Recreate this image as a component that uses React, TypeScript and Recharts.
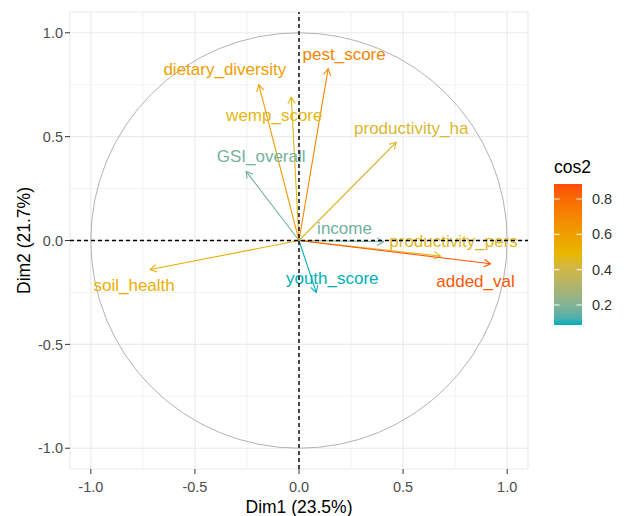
import { ScatterChart, Scatter, XAxis, YAxis, CartesianGrid, ReferenceLine } from "recharts";

// PCA variable coordinates
const variables = [
  "soil_health",
  "income",
  "productivity_ha",
  "productivity_pers",
  "added_val",
  "pest_score",
  "wemp_score",
  "youth_score",
  "dietary_diversity",
  "GSI_overall",
];
const dim1 = [-0.715, 0.406, 0.467, 0.68, 0.92, 0.14, -0.037, 0.083, -0.193, -0.254];
const dim2 = [-0.14, -0.006, 0.473, -0.075, -0.112, 0.827, 0.69, -0.25, 0.75, 0.333];

// label nudges in px (labels were repelled from the arrow tips)
const labelNudge: [number, number][] = [
  [-16, 16],
  [-39, -13],
  [15, -14],
  [13, -15],
  [-15, 18],
  [16, -14],
  [-17, 18],
  [16, -14],
  [-34, -15],
  [15, -15],
];

const majorTicks = [-1, -0.5, 0, 0.5, 1];
const minorTicks = [-0.75, -0.25, 0.25, 0.75];
const legendBreaks = [0.2, 0.4, 0.6, 0.8];
const cos2Limits = [0.087, 0.885];
const gradientCols = ["#00AFBB", "#E7B800", "#FC4E07"];

const FONT = "'Liberation Sans', Arial, sans-serif";

// ---- colour ramp in CIELAB, like ggplot's gradientn ----
const toLin = (c: number) => {
  const v = c / 255;
  return v <= 0.04045 ? v / 12.92 : Math.pow((v + 0.055) / 1.055, 2.4);
};
const fromLin = (c: number) => {
  const v = c <= 0.0031308 ? 12.92 * c : 1.055 * Math.pow(c, 1 / 2.4) - 0.055;
  return Math.round(Math.max(0, Math.min(1, v)) * 255);
};
const hexToLab = (hex: string) => {
  const r = toLin(parseInt(hex.slice(1, 3), 16));
  const g = toLin(parseInt(hex.slice(3, 5), 16));
  const b = toLin(parseInt(hex.slice(5, 7), 16));
  const X = (0.4124564 * r + 0.3575761 * g + 0.1804375 * b) / 0.95047;
  const Y = 0.2126729 * r + 0.7151522 * g + 0.072175 * b;
  const Z = (0.0193339 * r + 0.119192 * g + 0.9503041 * b) / 1.08883;
  const f = (t: number) => (t > 0.008856 ? Math.cbrt(t) : 7.787 * t + 16 / 116);
  const fx = f(X), fy = f(Y), fz = f(Z);
  return [116 * fy - 16, 500 * (fx - fy), 200 * (fy - fz)];
};
const labToHex = ([L, a, b]: number[]) => {
  const fy = (L + 16) / 116;
  const fx = a / 500 + fy;
  const fz = fy - b / 200;
  const inv = (t: number) => (t * t * t > 0.008856 ? t * t * t : (t - 16 / 116) / 7.787);
  const X = 0.95047 * inv(fx), Y = inv(fy), Z = 1.08883 * inv(fz);
  const r = 3.2404542 * X - 1.5371385 * Y - 0.4985314 * Z;
  const g = -0.969266 * X + 1.8760108 * Y + 0.041556 * Z;
  const bb = 0.0556434 * X - 0.2040259 * Y + 1.0572252 * Z;
  return "#" + [r, g, bb].map((c) => fromLin(c).toString(16).padStart(2, "0")).join("");
};
const labCols = gradientCols.map(hexToLab);
const rampColor = (value: number) => {
  let t = (value - cos2Limits[0]) / (cos2Limits[1] - cos2Limits[0]);
  t = Math.max(0, Math.min(1, t));
  const seg = t < 0.5 ? 0 : 1;
  const u = seg === 0 ? t / 0.5 : (t - 0.5) / 0.5;
  const A = labCols[seg], B = labCols[seg + 1];
  return labToHex(A.map((v, i) => v + (B[i] - v) * u));
};

const arrows = variables.map((name, i) => ({
  name,
  data: [
    { x: 0, y: 0 },
    { x: dim1[i], y: dim2[i] },
  ],
  color: rampColor(dim1[i] * dim1[i] + dim2[i] * dim2[i]),
  nudge: labelNudge[i],
}));

const noShape = () => <g />;

const makeArrow = (name: string, color: string, nudge: [number, number]) => (props: any) => {
  const pts = props.points;
  if (!pts || pts.length < 2) return <g />;
  const [o, t] = pts;
  const ang = Math.atan2(t.y - o.y, t.x - o.x);
  const len = 7.5;
  const a1 = ang + Math.PI - Math.PI / 6;
  const a2 = ang + Math.PI + Math.PI / 6;
  const head = `${t.x + len * Math.cos(a1)},${t.y + len * Math.sin(a1)} ${t.x},${t.y} ${
    t.x + len * Math.cos(a2)
  },${t.y + len * Math.sin(a2)}`;
  return (
    <g>
      <line x1={o.x} y1={o.y} x2={t.x} y2={t.y} stroke={color} strokeWidth={1.1} />
      <polyline points={head} fill="none" stroke={color} strokeWidth={1.1} />
      <text
        x={t.x + nudge[0]}
        y={t.y + nudge[1]}
        textAnchor="middle"
        dominantBaseline="central"
        fill={color}
        fontSize={17}
        fontFamily={FONT}
      >
        {name}
      </text>
    </g>
  );
};

// unit circle drawn from the scaled corners (-1, 1) and (1, -1)
const circleCorners = [
  { x: -1, y: 1 },
  { x: 1, y: -1 },
];
const unitCircle = (props: any) => {
  const pts = props.points;
  if (!pts || pts.length < 2) return <g />;
  const [a, b] = pts;
  return (
    <ellipse
      cx={(a.x + b.x) / 2}
      cy={(a.y + b.y) / 2}
      rx={Math.abs(b.x - a.x) / 2}
      ry={Math.abs(b.y - a.y) / 2}
      fill="none"
      stroke="#B3B3B3"
      strokeWidth={1}
    />
  );
};

const XTitle = (props: any) => {
  const vb = props.viewBox ?? { x: 70, y: 469, width: 458, height: 47 };
  return (
    <text x={vb.x + vb.width / 2} y={vb.y + vb.height - 3.5} textAnchor="middle" fontSize={17.5} fill="#000" fontFamily={FONT}>
      Dim1 (23.5%)
    </text>
  );
};

const YTitle = (props: any) => {
  const vb = props.viewBox ?? { x: 0, y: 12, width: 70, height: 457 };
  const cx = vb.x + 24;
  const cy = vb.y + vb.height / 2;
  return (
    <text
      x={cx}
      y={cy}
      transform={`rotate(-90, ${cx}, ${cy})`}
      textAnchor="middle"
      dominantBaseline="central"
      fontSize={17.5}
      fill="#000"
      fontFamily={FONT}
    >
      Dim2 (21.7%)
    </text>
  );
};

const Legend = () => {
  const top = 184;
  const bottom = 325;
  const left = 554;
  const w = 28;
  const yOf = (v: number) => bottom - ((v - cos2Limits[0]) / (cos2Limits[1] - cos2Limits[0])) * (bottom - top);
  const stops = Array.from({ length: 21 }, (_, k) => k / 20);
  return (
    <svg width={628} height={516} style={{ position: "absolute", left: 0, top: 0, pointerEvents: "none" }}>
      <defs>
        <linearGradient id="cos2grad" x1="0" y1="1" x2="0" y2="0">
          {stops.map((s) => (
            <stop
              key={s}
              offset={s}
              stopColor={rampColor(cos2Limits[0] + s * (cos2Limits[1] - cos2Limits[0]))}
            />
          ))}
        </linearGradient>
      </defs>
      <text x={left} y={173} fontSize={17.5} fill="#000" fontFamily={FONT}>
        cos2
      </text>
      <rect x={left} y={top} width={w} height={bottom - top} fill="url(#cos2grad)" />
      {legendBreaks.map((b) => (
        <g key={b}>
          <line x1={left} x2={left + w / 5} y1={yOf(b)} y2={yOf(b)} stroke="#fff" strokeWidth={1} />
          <line x1={left + w - w / 5} x2={left + w} y1={yOf(b)} y2={yOf(b)} stroke="#fff" strokeWidth={1} />
          <text x={592} y={yOf(b)} dominantBaseline="central" fontSize={14.5} fill="#333" fontFamily={FONT}>
            {b.toFixed(1)}
          </text>
        </g>
      ))}
    </svg>
  );
};

export default function App() {
  const tickStyle = { fill: "#4D4D4D", fontSize: 14.5, fontFamily: FONT };
  return (
    <div style={{ position: "absolute", left: 0, top: 0, width: 628, height: 516, background: "#fff", fontFamily: FONT }}>
      <ScatterChart width={628} height={516} margin={{ top: 12, right: 100, bottom: 0, left: 0 }}>
        <CartesianGrid stroke="#EBEBEB" strokeWidth={1.2} />
        {minorTicks.map((v) => (
          <ReferenceLine key={`mx${v}`} x={v} stroke="#EFEFEF" strokeWidth={0.8} />
        ))}
        {minorTicks.map((v) => (
          <ReferenceLine key={`my${v}`} y={v} stroke="#EFEFEF" strokeWidth={0.8} />
        ))}
        <XAxis
          type="number"
          dataKey="x"
          domain={[-1.1, 1.1]}
          ticks={majorTicks}
          allowDataOverflow
          tickFormatter={(v: number) => v.toFixed(1)}
          axisLine={false}
          tickLine={{ stroke: "#333333" }}
          tickSize={5}
          tickMargin={8}
          height={47}
          tick={tickStyle}
          label={{ content: <XTitle /> }}
        />
        <YAxis
          type="number"
          dataKey="y"
          domain={[-1.1, 1.1]}
          ticks={majorTicks}
          allowDataOverflow
          tickFormatter={(v: number) => v.toFixed(1)}
          axisLine={false}
          tickLine={{ stroke: "#333333" }}
          tickSize={5}
          tickMargin={2}
          width={70}
          tick={tickStyle}
          label={{ content: <YTitle /> }}
        />
        <Scatter data={circleCorners} line={unitCircle} shape={noShape} isAnimationActive={false} />
        {arrows.map((a) => (
          <Scatter
            key={a.name}
            name={a.name}
            data={a.data}
            line={makeArrow(a.name, a.color, a.nudge)}
            shape={noShape}
            fill={a.color}
            isAnimationActive={false}
          />
        ))}
        <ReferenceLine x={0} stroke="#000" strokeDasharray="4 3" strokeWidth={1.4} zIndex={700} />
        <ReferenceLine y={0} stroke="#000" strokeDasharray="4 3" strokeWidth={1.4} zIndex={700} />
      </ScatterChart>
      <Legend />
    </div>
  );
}
